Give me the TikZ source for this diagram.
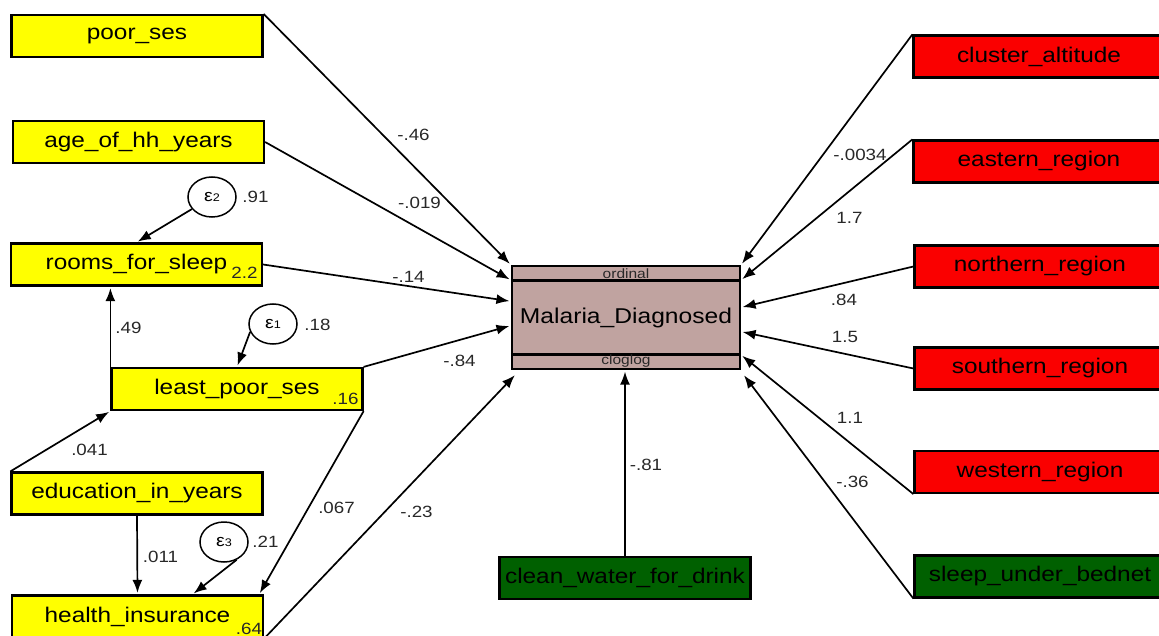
\documentclass[tikz,border=0pt]{standalone}
\usepackage{fontspec}
\setmainfont[FakeStretch=1.15]{Liberation Sans}
\usetikzlibrary{arrows.meta,calc,shapes.geometric}

\definecolor{semyellow}{RGB}{255,255,0}
\definecolor{semred}{RGB}{250,0,0}
\definecolor{semgreen}{RGB}{0,96,0}
\definecolor{semrose}{RGB}{192,163,160}
\definecolor{semtext}{RGB}{40,40,40}

\tikzset{every picture/.style={line width=1.7pt}}

\begin{document}
\begin{tikzpicture}[
    x=1pt, y=-1pt,
    var/.style={draw, line width=2.2pt, minimum width=251pt, minimum height=42pt, inner sep=0pt, font=\fontsize{21.2}{24}\selectfont},
    exo/.style={var, fill=semyellow},
    reg/.style={var, fill=semred},
    net/.style={var, fill=semgreen},
    err/.style={draw, ellipse, minimum width=48pt, minimum height=40pt, inner sep=0pt, line width=1.5pt, font=\fontsize{17}{17}\selectfont},
    coef/.style={inner sep=1pt, text=semtext, font=\fontsize{16.3}{18}\selectfont},
    tag/.style={inner sep=1pt, text=semtext, font=\fontsize{13.5}{14}\selectfont},
    effect/.style={-{Latex[length=13pt,width=10pt]}, shorten >=1.5pt},
]
    \useasboundingbox (0,0) rectangle (1159,636);

    \node[exo] (poor) at (137,36) {poor\_ses};
    \node[exo] (age) at (138.5,142) {age\_of\_hh\_years};
    \node[exo] (rooms) at (136.5,264.5) {rooms\_for\_sleep};
    \node[exo] (least) at (237,389) {least\_poor\_ses};
    \node[exo] (edu) at (137,493.5) {education\_in\_years};
    \node[exo] (health) at (137.5,616.5) {health\_insurance};

    \node[net] (clean) at (625,578) {clean\_water\_for\_drink};

    \node[reg] (cluster) at (1039,56.5) {cluster\_altitude};
    \node[reg] (eastern) at (1039,161.5) {eastern\_region};
    \node[reg] (northern) at (1040,266.5) {northern\_region};
    \node[reg] (southern) at (1040,368.5) {southern\_region};
    \node[reg] (western) at (1040,472) {western\_region};
    \node[net] (bednet) at (1040,576.5) {sleep\_under\_bednet};

    \node[draw, fill=semrose, line width=2.2pt, minimum width=228pt, minimum height=103pt, inner sep=0pt,
        font=\fontsize{21.4}{24}\selectfont] (mal) at (626,317.5) {Malaria\_Diagnosed};
    \draw[line width=3pt] ($(mal.north west)+(0,16)$) -- ($(mal.north east)+(0,16)$);
    \draw[line width=3pt] ($(mal.south west)+(0,-16)$) -- ($(mal.south east)+(0,-16)$);
    \node[tag] (ordinal) at (626,274) {ordinal};
    \node[tag] (cloglog) at (626,361) {cloglog};

    \node[err] (e2) at (212,197) {ε{\fontsize{11}{11}\selectfont 2}};
    \node[err] (e1) at (273,324) {ε{\fontsize{11}{11}\selectfont 1}};
    \node[err] (e3) at (224,542) {ε{\fontsize{11}{11}\selectfont 3}};

    \draw[effect] (poor.north east) -- (mal.north west);
    \draw[effect] (age.east) -- (mal.162.7);
    \draw[effect] (rooms.east) -- (mal.172.8);
    \draw[effect] (least.north east) -- (mal.184.8);
    \draw[effect] (health.south east) -- ($(mal.south west)+(5,4)$);
    \draw[effect] (clean.north) -- (clean.north |- mal.south);

    \draw[effect] (cluster.north west) -- (mal.north east);
    \draw[effect] (eastern.north west) -- (mal.18.2);
    \draw[effect] (northern.west) -- (mal.5.3);
    \draw[effect] (southern.west) -- (mal.353.7);
    \draw[effect] (western.south west) -- (mal.342.7);
    \draw[effect] (bednet.south west) -- ($(mal.south east)+(2,4)$);

    \draw[effect] (least.north west) -- (least.north west |- rooms.south);
    \draw[effect] (edu.north west) -- (least.south west);
    \draw[effect] (edu.south) -- (health.north);
    \draw[effect] (least.south east) -- ($(health.north east)+(-5,0)$);

    \draw[effect] (e2) -- (rooms.north);
    \draw[effect] (e1.199) -- (least.north);
    \draw[effect] (e3.305) -- ($(health.north)+(55,0)$);

    \node[coef] (c-poor) at (413.5,135) {-.46};
    \node[coef] (c-age) at (419.5,203) {-.019};
    \node[coef] (c-rooms) at (408.5,277) {-.14};
    \node[coef] (c-least) at (459.5,361) {-.84};
    \node[coef] (c-health) at (416.5,512) {-.23};
    \node[coef] (c-clean) at (646,465) {-.81};
    \node[coef] (c-cluster) at (860,155) {-.0034};
    \node[coef] (c-eastern) at (849.5,218) {1.7};
    \node[coef] (c-northern) at (844,300) {.84};
    \node[coef] (c-southern) at (845,337) {1.5};
    \node[coef] (c-western) at (850,418) {1.1};
    \node[coef] (c-bednet) at (852.5,482) {-.36};
    \node[coef] (c-rooms-least) at (128.5,328) {.49};
    \node[coef] (c-least-edu) at (89.5,450) {.041};
    \node[coef] (c-health-edu) at (160.5,557) {.011};
    \node[coef] (c-health-least) at (336.5,508) {.067};

    \node[coef] (v-e2) at (255.5,197) {.91};
    \node[coef] (v-e1) at (317.5,325) {.18};
    \node[coef] (v-e3) at (265.5,542) {.21};
    \node[coef] (i-rooms) at (244.5,273) {2.2};
    \node[coef] (i-least) at (345.5,399) {.16};
    \node[coef] (i-health) at (249,629) {.64};
\end{tikzpicture}
\end{document}
